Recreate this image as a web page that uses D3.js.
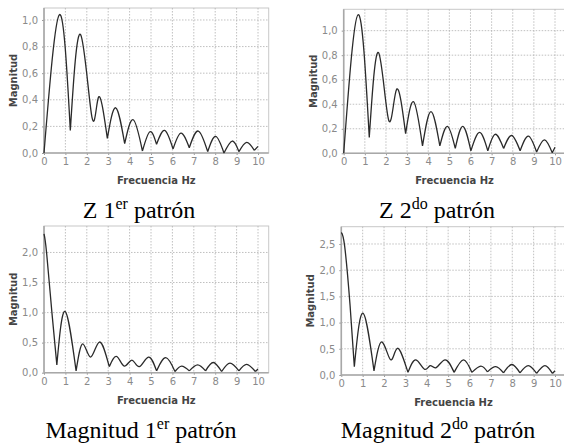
<!DOCTYPE html>
<html>
<head>
<meta charset="utf-8">
<script src="https://cdn.jsdelivr.net/npm/d3@7"></script>
<style>
  html, body { margin: 0; padding: 0; background: #fff; }
  svg { display: block; }
</style>
</head>
<body>
<svg width="564" height="447"></svg>
<script>
// Z 1er patrón
const freqZ1 = [0, 0.72, 1.23, 1.71, 2.24, 2.55, 2.96, 3.35, 3.77, 4.17, 4.6, 4.95, 5.26, 5.64, 6.03, 6.4, 6.79, 7.21, 7.65, 8.02, 8.41, 8.8, 9.11, 9.47, 9.83, 10];
const magZ1  = [0, 1.04, 0.17, 0.89, 0.27, 0.42, 0.11, 0.34, 0.07, 0.25, 0.015, 0.16, 0.065, 0.17, 0.03, 0.15, 0.04, 0.165, 0.01, 0.125, 0.0, 0.09, 0.01, 0.08, 0.02, 0.05];

// Z 2do patrón
const freqZ2 = [0, 0.68, 1.21, 1.65, 2.13, 2.5, 2.93, 3.31, 3.73, 4.13, 4.55, 4.91, 5.28, 5.64, 6.02, 6.43, 6.82, 7.17, 7.57, 7.95, 8.35, 8.74, 9.13, 9.5, 9.87, 10];
const magZ2  = [0, 1.13, 0.13, 0.82, 0.27, 0.52, 0.16, 0.42, 0.06, 0.34, 0.06, 0.22, 0.04, 0.22, 0.02, 0.17, 0.02, 0.155, 0.04, 0.145, 0.02, 0.14, 0.01, 0.11, 0.005, 0.05];

// Magnitud 1er patrón
const freqM1 = [0, 0.12, 0.37, 0.6, 0.98, 1.5, 1.81, 2.18, 2.59, 3.05, 3.4, 3.75, 4.11, 4.45, 4.88, 5.26, 5.69, 6.12, 6.43, 6.79, 7.18, 7.55, 7.91, 8.3, 8.69, 9.11, 9.47, 9.88, 10];
const magM1  = [2.31, 2.0, 1.0, 0.13, 1.02, 0.03, 0.48, 0.26, 0.51, 0.10, 0.27, 0.11, 0.21, 0.10, 0.26, 0.03, 0.25, 0.02, 0.11, 0.03, 0.13, 0.03, 0.17, 0.02, 0.16, 0.03, 0.14, 0.02, 0.06];

// Magnitud 2do patrón
const freqM2 = [0, 0.16, 0.41, 0.61, 1.01, 1.53, 1.9, 2.31, 2.63, 3.12, 3.49, 3.89, 4.16, 4.44, 4.86, 5.28, 5.72, 6.11, 6.53, 6.84, 7.23, 7.59, 7.98, 8.36, 8.75, 9.14, 9.53, 9.88, 10];
const magM2  = [2.72, 2.45, 1.33, 0.16, 1.18, 0.08, 0.63, 0.29, 0.51, 0.05, 0.29, 0.11, 0.18, 0.14, 0.29, 0.05, 0.29, 0.05, 0.17, 0.06, 0.16, 0.04, 0.2, 0.04, 0.18, 0.03, 0.18, 0.03, 0.08];

const xTicks = [0, 1, 2, 3, 4, 5, 6, 7, 8, 9, 10];
const yTicksZ = [0, 0.2, 0.4, 0.6, 0.8, 1.0];
const yTicksM1 = [0, 0.5, 1.0, 1.5, 2.0];
const yTicksM2 = [0, 0.5, 1.0, 1.5, 2.0, 2.5];

const captionsMain = ["Z 1", "Z 2", "Magnitud 1", "Magnitud 2"];
const captionsSup = ["er", "do", "er", "do"];

const svg = d3.select("svg");
const fmt = v => v.toFixed(1).replace(".", ",");

// layout of the four panels
const panels = [
  {x: freqZ1, y: magZ1, ticks: yTicksZ, yMax: 1.09, left: 44, x10: 258, top: 8, bottom: 153, ytx: 13, cx: 139, cy: 218},
  {x: freqZ2, y: magZ2, ticks: yTicksZ, yMax: 1.174, left: 343.7, x10: 555, top: 9.3, bottom: 153.3, ytx: 313.5, cx: 437, cy: 218},
  {x: freqM1, y: magM1, ticks: yTicksM1, yMax: 2.44, left: 44, x10: 258, top: 226, bottom: 372.7, ytx: 13, cx: 141, cy: 438},
  {x: freqM2, y: magM2, ticks: yTicksM2, yMax: 2.83, left: 341.3, x10: 555, top: 226.7, bottom: 375, ytx: 310, cx: 438, cy: 438}
];

panels.forEach((p, i) => {
  const xMaxPx = p.left + (p.x10 - p.left) * 1.05;
  const x = d3.scaleLinear().domain([0, 10]).range([p.left, p.x10]);
  const y = d3.scaleLinear().domain([0, p.yMax]).range([p.bottom, p.top]);
  const g = svg.append("g");

  g.append("rect")
    .attr("x", p.left).attr("y", p.top)
    .attr("width", xMaxPx - p.left).attr("height", p.bottom - p.top)
    .attr("fill", "#fff").attr("stroke", "#c8c8c8").attr("stroke-width", 1);

  // grid
  g.append("g").selectAll("line").data(xTicks.slice(1)).join("line")
    .attr("x1", d => x(d)).attr("x2", d => x(d))
    .attr("y1", p.top).attr("y2", p.bottom)
    .attr("stroke", "#b0b0b0").attr("stroke-width", 0.8).attr("stroke-dasharray", "1.5,1.5");
  g.append("g").selectAll("line").data(p.ticks.slice(1)).join("line")
    .attr("x1", p.left).attr("x2", xMaxPx)
    .attr("y1", d => y(d)).attr("y2", d => y(d))
    .attr("stroke", "#b0b0b0").attr("stroke-width", 0.8).attr("stroke-dasharray", "1.5,1.5");

  // axes
  const xAxis = g.append("g").attr("transform", `translate(0,${p.bottom})`)
    .call(d3.axisBottom(x).tickValues(xTicks).tickSize(2).tickPadding(3).tickFormat(d3.format("d")));
  const yAxis = g.append("g").attr("transform", `translate(${p.left},0)`)
    .call(d3.axisLeft(y).tickValues(p.ticks).tickSize(2).tickPadding(4).tickFormat(fmt));
  [xAxis, yAxis].forEach(a => {
    a.select(".domain").remove();
    a.selectAll("line").attr("stroke", "#999");
    a.selectAll("text").attr("fill", "#8a8a8a").style("font", "10px 'DejaVu Sans'");
  });
  g.append("line").attr("x1", p.left).attr("x2", xMaxPx).attr("y1", p.bottom).attr("y2", p.bottom)
    .attr("stroke", "#a8a8a8").attr("stroke-width", 1.6);
  g.append("line").attr("x1", p.left).attr("x2", p.left).attr("y1", p.top).attr("y2", p.bottom)
    .attr("stroke", "#a8a8a8").attr("stroke-width", 1.6);

  // axis titles
  g.append("text").attr("x", (p.left + xMaxPx) / 2).attr("y", p.bottom + 31)
    .attr("text-anchor", "middle").attr("fill", "#444")
    .style("font", "bold 10px 'DejaVu Sans'").text("Frecuencia Hz");
  g.append("text")
    .attr("transform", `translate(${p.ytx},${(p.top + p.bottom) / 2}) rotate(-90)`)
    .attr("text-anchor", "middle").attr("dy", "0.35em").attr("fill", "#444")
    .style("font", "bold 10px 'DejaVu Sans'").text("Magnitud");

  // curve: split into lobes at sharp (near-zero) dips
  const pts = p.x.map((v, k) => [v, p.y[k]]);
  const segs = [];
  let cur = [pts[0]];
  for (let k = 1; k < pts.length; k++) {
    cur.push(pts[k]);
    if (k < pts.length - 1 && pts[k][1] < pts[k - 1][1] && pts[k][1] < pts[k + 1][1]
        && pts[k][1] < 0.45 * Math.min(pts[k - 1][1], pts[k + 1][1])) {
      segs.push(cur);
      cur = [pts[k]];
    }
  }
  segs.push(cur);
  const line = d3.line().x(d => x(d[0])).y(d => y(d[1])).curve(d3.curveNatural);
  g.append("path")
    .attr("d", segs.map(s => line(s)).join(""))
    .attr("fill", "none").attr("stroke", "#2a2a2a").attr("stroke-width", 1.3)
    .attr("stroke-linejoin", "round");

  // caption
  const t = svg.append("text").attr("x", p.cx).attr("y", p.cy)
    .attr("text-anchor", "middle").attr("fill", "#000")
    .style("font-family", "'Liberation Serif', 'Times New Roman', serif").style("font-size", "24px");
  t.append("tspan").text(captionsMain[i]);
  t.append("tspan").attr("dy", -9).style("font-size", "16px").text(captionsSup[i]);
  t.append("tspan").attr("dy", 9).text(" patrón");
});
</script>
</body>
</html>
